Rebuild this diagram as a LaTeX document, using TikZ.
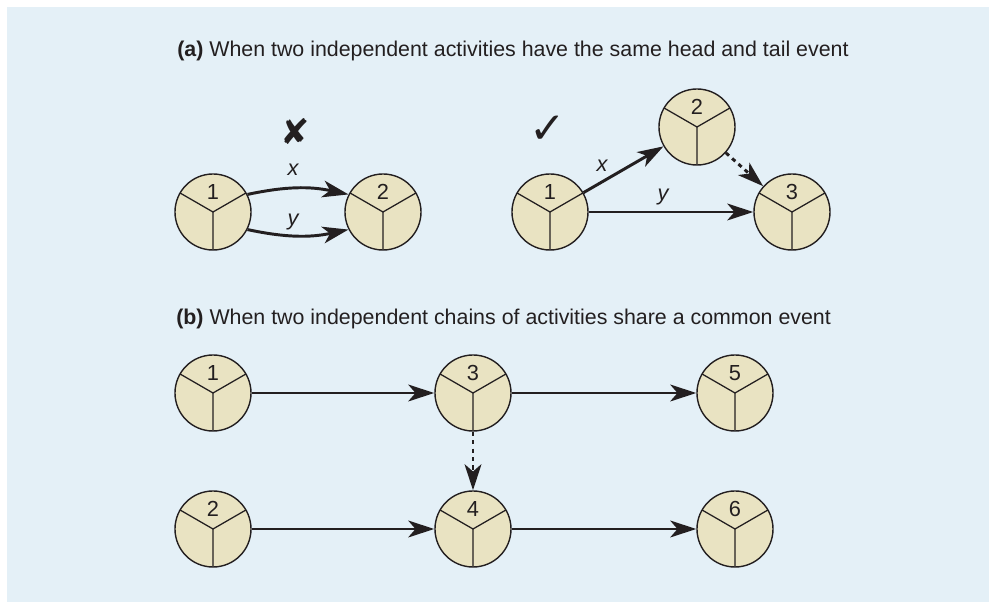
\documentclass[tikz,border=0pt]{standalone}
\usepackage{fontspec}
\setmainfont{Liberation Sans}
\newfontfamily\symfont{DejaVu Sans}
\usepackage{xcolor}
\usetikzlibrary{arrows.meta}

\definecolor{bgblue}{RGB}{228,240,247}
\definecolor{evfill}{RGB}{233,227,194}
\definecolor{ink}{RGB}{35,31,32}

\begin{document}
\begin{tikzpicture}[
    x=0.025cm, y=-0.025cm,
    >={Stealth[length=6.5mm, width=4.2mm, inset=1.8mm]},
    % Event circles, split in three
    event/.style={
        circle, draw=ink, line width=1pt, fill=evfill,
        minimum size=1.9cm, inner sep=0pt,
        path picture={
            \draw[ink, line width=0.9pt]
                (path picture bounding box.center) -- ++(150:1cm)
                (path picture bounding box.center) -- ++(30:1cm)
                (path picture bounding box.center) -- ++(-90:1cm);
        },
        label={[evnum]center:#1}
    },
    % Event number (top sector)
    evnum/.style={
        font=\fontsize{15.5}{17}\selectfont, text=ink, yshift=0.5cm
    },
    % Activity arrow
    arr/.style={->, ink, line width=2.1pt},
    % Dummy activity
    darr/.style={arr, dash pattern=on 3pt off 3pt},
    % Panel title
    title/.style={
        font=\fontsize{15.2}{17}\selectfont, text=ink,
        anchor=base west, inner sep=0pt
    },
    % Activity label
    lbl/.style={
        font=\fontsize{15.5}{17}\selectfont\itshape, text=ink,
        anchor=base, inner sep=0pt
    },
    % Wrong / right marks
    verdict/.style={font=\symfont\fontsize{25}{27}\selectfont, text=ink},
]

\useasboundingbox (0,0) rectangle (989,602);
\fill[bgblue] (7,7) rectangle (989,602);

% Row heights
\def\rowa{212}
\def\rowb{393}
\def\rowc{529}

% ===== (a) Same head and tail event =====
\node[title] (ta) at (177,57)
    {\textbf{(a)} When two independent activities have the same head and tail event};

% wrong
\node[verdict] (no) at (295,132) {✘};
\node[event=1] (w1) at (213,\rowa) {};
\node[event=2] (w2) at (383,\rowa) {};
\draw[arr] (w1.27) to[bend left=12] (w2.153);
\draw[arr] (w1.-27) to[bend right=12] (w2.-153);
\node[lbl] (wx) at (293,176) {x};
\node[lbl] (wy) at (293,226) {y};

% right, with a dummy
\node[verdict, font=\symfont\fontsize{31}{33}\selectfont] (yes) at (548,130) {✓};
\node[event=1] (r1) at (550,\rowa) {};
\node[event=2] (r2) at (697,127) {};
\node[event=3] (r3) at (792,\rowa) {};
\draw[arr] (r1) -- (r2);
\draw[arr] (r1) -- (r3);
\draw[darr] (r2) -- (r3);
\node[lbl] (rx) at (602,172) {x};
\node[lbl] (ry) at (663,201) {y};

% ===== (b) Chains sharing a common event =====
\node[title] (tb) at (176,325)
    {\textbf{(b)} When two independent chains of activities share a common event};

\node[event=1] (b1) at (213,\rowb) {};
\node[event=3] (b3) at (473,\rowb) {};
\node[event=5] (b5) at (735,\rowb) {};
\node[event=2] (b2) at (213,\rowc) {};
\node[event=4] (b4) at (473,\rowc) {};
\node[event=6] (b6) at (735,\rowc) {};

\draw[arr] (b1) -- (b3);
\draw[arr] (b3) -- (b5);
\draw[arr] (b2) -- (b4);
\draw[arr] (b4) -- (b6);
\draw[darr] (b3) -- (b4);

\end{tikzpicture}
\end{document}
